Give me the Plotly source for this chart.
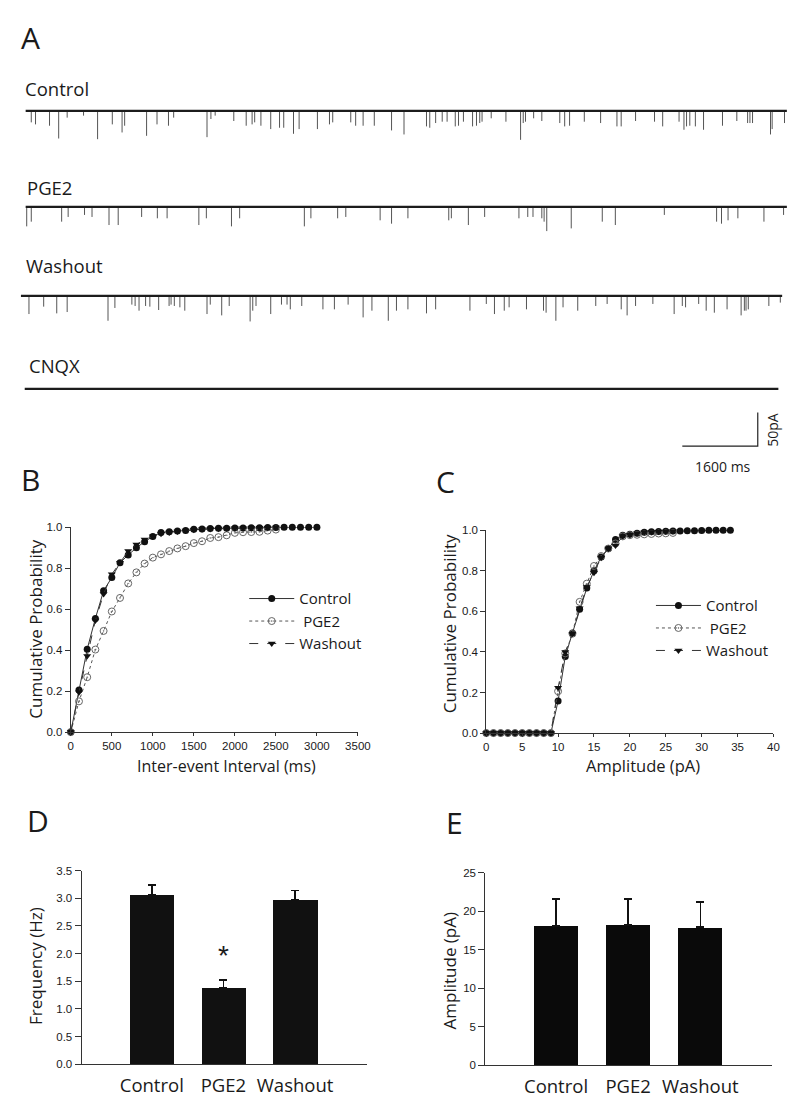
import plotly.graph_objects as go

W, H = 800, 1097
FONT = "Open Sans, Noto Sans, sans-serif"
TICKFONT = "Liberation Sans, Arial, sans-serif"
INK = "#1a1a1a"


def fx(p):
    return p / W


def fy(p):
    return 1 - p / H


# ---------------- Panel A : recordings (event times in ms, amplitudes in pA) ----------------
rec_names = ["Control", "PGE2", "Washout", "CNQX"]
rec_start_ms = [20, 20, -80, 0]
rec_end_ms = [16160, 16160, 16060, 15980]

ctrl_evt_ms = [139, 229, 526, 720, 900, 1247, 1545, 1857, 2064, 2119, 2584, 2805, 3048, 3158,
               3865, 3948, 4038, 4433, 4696, 4821, 4876, 5008, 5216, 5403, 5492, 5699, 5818,
               6206, 6462, 6531, 6913, 7017, 7175, 7412, 7778,
               8042, 8519, 8588, 8713, 8852, 8956, 9129, 9198, 9302, 9496, 9579, 9648, 9697,
               9891, 10203, 10514, 10570, 10618, 10791, 10964, 11345, 11449, 11553, 11865,
               12211, 12557, 12647, 12952, 13354, 13527, 13874, 13978, 14033, 14102, 14220,
               14393, 14795, 15099, 15328, 15377, 15432, 15813, 15848, 16110]
ctrl_evt_pA = [17, 20, 22, 41, 10, 7, 42, 20, 32, 22, 37, 20, 22, 10, 39, 12, 7, 15, 22, 20,
               17, 22, 27, 25, 25, 34, 27, 27, 20, 17, 17, 22, 22, 22, 29,
               35, 23, 25, 18, 16, 16, 23, 22, 16, 23, 22, 18, 16, 11, 16, 43, 18, 16, 11, 15,
               18, 23, 22, 16, 18, 23, 23, 15, 16, 23, 16, 28, 23, 22, 23, 28, 22, 15, 18, 18,
               18, 35, 27, 18]

pge2_evt_ms = [42, 139, 783, 921, 1268, 1427, 1787, 1982, 2479, 2812, 3019, 3692, 3851, 4384,
               4557, 5929, 6068, 6635, 6808, 7536, 7778,
               8125, 8991, 9046, 9407, 9752, 10479, 10666, 10777, 10964, 11013, 11069, 11588,
               12246, 12523, 13562, 14670, 14774, 14913, 15121, 15674, 16090]
pge2_evt_pA = [29, 22, 22, 15, 12, 15, 27, 27, 15, 17, 17, 27, 17, 29, 17, 29, 17, 17, 15, 20, 25,
               17, 20, 17, 27, 15, 17, 15, 15, 17, 22, 36, 32, 22, 27, 12, 22, 25, 20, 17, 22, 12]

wash_evt_ms = [90, 402, 679, 900, 1766, 1912, 2272, 2341, 2424, 2563, 2653, 2840, 3061, 3103,
               3172, 3290, 3394, 3865, 3934, 4177, 4336, 4779, 4835, 4904, 5216, 5444, 5562,
               5631, 5874, 6323, 6566, 6857, 7175, 7362, 7709, 7882,
               8125, 8519, 8713, 9440, 9787, 9960, 10168, 10271, 10639, 11000, 11055, 11262,
               11414, 11726, 12108, 12349, 12648, 12773, 12952, 13319, 13770, 13943, 14012,
               14290, 14449, 14622, 14892, 15190, 15259, 15294, 15342, 15778, 16021]
wash_evt_pA = [27, 16, 26, 24, 37, 18, 13, 15, 22, 15, 16, 21, 15, 13, 15, 17, 22, 27, 13, 29,
               15, 38, 22, 15, 27, 13, 13, 20, 15, 20, 20, 13, 32, 22, 37, 22,
               20, 26, 20, 22, 12, 27, 22, 17, 20, 22, 25, 37, 17, 22, 15, 12, 20, 29, 15, 12,
               27, 15, 17, 12, 22, 25, 20, 29, 22, 22, 20, 15, 10]

cnqx_evt_ms = []
cnqx_evt_pA = []

scale_time_ms = 1600
scale_amp_pA = 50

# ---------------- Panel B : cumulative inter-event interval ----------------
iei_ms = [0, 100, 200, 300, 400, 500, 600, 700, 800, 900, 1000, 1100, 1200, 1300, 1400, 1500,
          1600, 1700, 1800, 1900, 2000, 2100, 2200, 2300, 2400, 2500, 2600, 2700, 2800, 2900, 3000]
iei_control = [0, 0.205, 0.405, 0.555, 0.69, 0.755, 0.827, 0.865, 0.90, 0.93, 0.955, 0.975,
               0.978, 0.982, 0.985, 0.99, 0.992, 0.994, 0.995, 0.996, 0.997, 0.997, 0.998,
               0.998, 0.999, 0.999, 1.0, 1.0, 1.0, 1.0, 1.0]
iei_pge2 = [0, 0.15, 0.268, 0.403, 0.494, 0.589, 0.655, 0.726, 0.78, 0.823, 0.852, 0.868,
            0.884, 0.897, 0.908, 0.923, 0.932, 0.948, 0.952, 0.961, 0.973, 0.976, 0.977,
            0.978, 0.984, 0.989]
iei_washout = [0, 0.195, 0.371, 0.545, 0.674, 0.771, 0.827, 0.884, 0.916, 0.94, 0.956, 0.968,
               0.975, 0.98, 0.984, 0.988, 0.99, 0.992, 0.993, 0.994, 0.995, 0.996, 0.997,
               0.998, 0.998, 0.999]

# ---------------- Panel C : cumulative amplitude ----------------
amp_pA = [0, 1, 2, 3, 4, 5, 6, 7, 8, 9, 10, 11, 12, 13, 14, 15, 16, 17, 18, 19, 20, 21, 22,
          23, 24, 25, 26, 27, 28, 29, 30, 31, 32, 33, 34]
amp_control = [0, 0, 0, 0, 0, 0, 0, 0, 0, 0, 0.158, 0.377, 0.494, 0.61, 0.715, 0.80, 0.868,
               0.91, 0.955, 0.975, 0.98, 0.985, 0.99, 0.993, 0.994, 0.995, 0.996, 0.997,
               0.998, 0.998, 0.999, 1.0, 1.0, 1.0, 1.0]
amp_pge2 = [0, 0, 0, 0, 0, 0, 0, 0, 0, 0, 0.206, 0.393, 0.49, 0.647, 0.737, 0.824, 0.873,
            0.91, 0.935, 0.97, 0.976, 0.978, 0.98, 0.982, 0.984, 0.985, 0.987]
amp_washout = [0, 0, 0, 0, 0, 0, 0, 0, 0, 0, 0.223, 0.40, 0.49, 0.615, 0.72, 0.79, 0.865,
               0.91, 0.925, 0.97, 0.978, 0.985, 0.99, 0.992, 0.993, 0.994, 0.995]

# ---------------- Panels D / E : bar summaries ----------------
conditions = ["Control", "PGE2", "Washout"]
freq_mean = [3.06, 1.39, 2.98]
freq_sem = [0.18, 0.13, 0.16]
ampl_mean = [18.1, 18.2, 17.9]
ampl_sem = [3.5, 3.4, 3.3]

fig = go.Figure()

# ================= Panel A =================
A_PX_PER_MS = 77 / scale_time_ms
A_PX_PER_PA = 34 / scale_amp_pA
A_X0_PX = 14
A_XRANGE = [-100, 16170]
A_TOP, A_BOT = 60, 440
A_BASE_PX = [98, 195, 285, 379]
a_xdom = [fx(A_X0_PX + A_XRANGE[0] * A_PX_PER_MS), fx(A_X0_PX + A_XRANGE[1] * A_PX_PER_MS)]
a_yrange = [0, (A_BOT - A_TOP) / A_PX_PER_PA]
bases = [(A_BOT - b) / A_PX_PER_PA for b in A_BASE_PX]

events = [(ctrl_evt_ms, ctrl_evt_pA), (pge2_evt_ms, pge2_evt_pA),
          (wash_evt_ms, wash_evt_pA), (cnqx_evt_ms, cnqx_evt_pA)]
for i, (tms, amps) in enumerate(events):
    base = bases[i]
    xs, ys = [], []
    for t, a in zip(tms, amps):
        xs += [t, t, None]
        ys += [base, base - a, None]
    if xs:
        fig.add_trace(go.Scatter(x=xs, y=ys, mode="lines", xaxis="x", yaxis="y",
                                 line=dict(color="#555", width=1), showlegend=False,
                                 hoverinfo="skip"))
    fig.add_trace(go.Scatter(x=[rec_start_ms[i], rec_end_ms[i]], y=[base, base], mode="lines",
                             xaxis="x", yaxis="y", line=dict(color="#1c1c1c", width=2.2),
                             showlegend=False, hoverinfo="skip"))

# scale bar
sb_t0 = (685 - A_X0_PX) / A_PX_PER_MS
sb_y0 = (A_BOT - 437) / A_PX_PER_PA
fig.add_trace(go.Scatter(x=[sb_t0, sb_t0 + scale_time_ms, sb_t0 + scale_time_ms],
                         y=[sb_y0, sb_y0, sb_y0 + scale_amp_pA], mode="lines",
                         xaxis="x", yaxis="y", line=dict(color="#222", width=1.2),
                         showlegend=False, hoverinfo="skip"))

# ================= Panel B =================
fig.add_trace(go.Scatter(x=iei_ms, y=iei_control, name="Control", mode="lines+markers",
                         xaxis="x2", yaxis="y2", legend="legend", cliponaxis=False,
                         line=dict(color="#333", width=1, dash="solid"),
                         marker=dict(symbol="circle", size=7, color="#111")))
fig.add_trace(go.Scatter(x=iei_ms[:len(iei_pge2)], y=iei_pge2, name=" PGE2",
                         mode="lines+markers", xaxis="x2", yaxis="y2", legend="legend",
                         cliponaxis=False, line=dict(color="#555", width=1, dash="dot"),
                         marker=dict(symbol="circle-open-dot", size=7, color="#666",
                                     line=dict(width=1, color="#666"))))
fig.add_trace(go.Scatter(x=iei_ms[:len(iei_washout)], y=iei_washout, name="Washout",
                         mode="lines+markers", xaxis="x2", yaxis="y2", legend="legend",
                         cliponaxis=False, line=dict(color="#333", width=1, dash="dash"),
                         marker=dict(symbol="triangle-down", size=7, color="#111")))

# ================= Panel C =================
fig.add_trace(go.Scatter(x=amp_pA, y=amp_control, name="Control", mode="lines+markers",
                         xaxis="x3", yaxis="y3", legend="legend2", cliponaxis=False,
                         line=dict(color="#333", width=1, dash="solid"),
                         marker=dict(symbol="circle", size=7, color="#111")))
fig.add_trace(go.Scatter(x=amp_pA[:len(amp_pge2)], y=amp_pge2, name=" PGE2",
                         mode="lines+markers", xaxis="x3", yaxis="y3", legend="legend2",
                         cliponaxis=False, line=dict(color="#555", width=1, dash="dot"),
                         marker=dict(symbol="circle-open-dot", size=7, color="#666",
                                     line=dict(width=1, color="#666"))))
fig.add_trace(go.Scatter(x=amp_pA[:len(amp_washout)], y=amp_washout, name="Washout",
                         mode="lines+markers", xaxis="x3", yaxis="y3", legend="legend2",
                         cliponaxis=False, line=dict(color="#333", width=1, dash="dash"),
                         marker=dict(symbol="triangle-down", size=7, color="#111")))

# ================= Panels D and E =================
err_style = dict(type="data", symmetric=False, color="#111", thickness=1.6, width=4)
fig.add_trace(go.Bar(x=conditions, y=freq_mean, xaxis="x4", yaxis="y4", width=0.616,
                     marker=dict(color="#111", line=dict(width=0)), showlegend=False,
                     error_y=dict(array=freq_sem, arrayminus=[0] * len(freq_sem), **err_style)))
fig.add_trace(go.Bar(x=conditions, y=ampl_mean, xaxis="x5", yaxis="y5", width=0.612,
                     marker=dict(color="#0a0a0a", line=dict(width=0)), showlegend=False,
                     error_y=dict(array=ampl_sem, arrayminus=[0] * len(ampl_sem), **err_style)))


def dom_x(a, b):
    return [fx(a), fx(b)]


def dom_y(top, bot):
    return [fy(bot), fy(top)]


hidden = dict(visible=False, showgrid=False, zeroline=False, fixedrange=True)
tickf = dict(family=TICKFONT, size=11.5, color=INK)
ax_common = dict(showline=True, linecolor="#333", linewidth=1, showgrid=False, zeroline=False,
                 ticks="outside", tickcolor="#333", tickwidth=1, tickfont=tickf,
                 fixedrange=True)

layout = dict(
    width=W, height=H, margin=dict(l=0, r=0, t=0, b=0),
    paper_bgcolor="white", plot_bgcolor="white", bargap=0,
    font=dict(family=FONT, color=INK),
    xaxis=dict(domain=a_xdom, range=A_XRANGE, anchor="y", **hidden),
    yaxis=dict(domain=dom_y(A_TOP, A_BOT), range=a_yrange, anchor="x", **hidden),
    xaxis2=dict(domain=dom_x(61, 354), range=[0, 3500], dtick=500, tick0=0, ticklen=3,
                anchor="y2", **ax_common),
    yaxis2=dict(domain=dom_y(519, 726), range=[0, 1.0], dtick=0.2, tick0=0, tickformat=".1f",
                ticklen=5, anchor="x2", **ax_common),
    xaxis3=dict(domain=dom_x(485, 778), range=[0, 40], dtick=5, tick0=0, ticklen=3,
                anchor="y3", **ax_common),
    yaxis3=dict(domain=dom_y(522, 727), range=[0, 1.0], dtick=0.2, tick0=0, tickformat=".1f",
                ticklen=5, anchor="x3", **ax_common),
    xaxis4=dict(domain=dom_x(72, 363), type="category", range=[-0.98, 3.0], anchor="y4",
                showline=True, linecolor="#333", linewidth=1, showgrid=False, ticks="outside",
                ticklen=4, tickcolor="rgba(0,0,0,0)",
                tickfont=dict(family=FONT, size=18.5, color=INK), fixedrange=True),
    yaxis4=dict(domain=dom_y(866, 1062), range=[0, 3.5], dtick=0.5, tick0=0, tickformat=".1f",
                ticklen=6, anchor="x4", **ax_common),
    xaxis5=dict(domain=dom_x(484, 777), type="category", range=[-0.98, 3.0], anchor="y5",
                showline=True, linecolor="#333", linewidth=1, showgrid=False, ticks="outside",
                ticklen=4, tickcolor="rgba(0,0,0,0)",
                tickfont=dict(family=FONT, size=18.5, color=INK), fixedrange=True),
    yaxis5=dict(domain=dom_y(868, 1063), range=[0, 25], dtick=5, tick0=0,
                ticklen=6, anchor="x5", **ax_common),
    legend=dict(x=fx(238), y=fy(614), xanchor="left", yanchor="middle",
                font=dict(family=FONT, size=15, color=INK), bgcolor="rgba(0,0,0,0)",
                itemwidth=45, tracegroupgap=0),
    legend2=dict(x=fx(653), y=fy(621), xanchor="left", yanchor="middle",
                 font=dict(family=FONT, size=15, color=INK), bgcolor="rgba(0,0,0,0)",
                 itemwidth=45, tracegroupgap=0),
)

ann = []


def text(x, y, s, size, xanchor="center", yanchor="middle", angle=0):
    ann.append(dict(x=fx(x), y=fy(y), xref="paper", yref="paper", text=s, showarrow=False,
                    xanchor=xanchor, yanchor=yanchor, textangle=angle,
                    font=dict(family=FONT, size=size, color=INK)))


# panel letters
text(8, 24, "A", 30, xanchor="left")
text(8, 471, "B", 30, xanchor="left")
text(432, 473, "C", 30, xanchor="left")
text(14, 815, "D", 30, xanchor="left")
text(442, 817, "E", 30, xanchor="left")

# recording labels
label_x = [12, 14, 13, 16]
label_y = [75, 175, 254, 355]
for nm, lx, ly in zip(rec_names, label_x, label_y):
    text(lx, ly, nm, 18.5, xanchor="left")

# scale bar labels
text(777, 420, "50pA", 14, angle=-90)
text(727, 457, "1600 ms", 14)

# axis titles
text(220, 760, "Inter-event Interval (ms)", 16)
text(25, 622, "Cumulative Probability", 17, angle=-90)
text(645, 760, "Amplitude (pA)", 16.5)
text(447, 617, "Cumulative Probability", 17, angle=-90)
text(25, 963, "Frequency (Hz)", 17, angle=-90)
text(447, 967, "Amplitude (pA)", 17, angle=-90)

# significance star
ann.append(dict(x=conditions[1], y=freq_mean[1] + freq_sem[1] + 0.45, xref="x4", yref="y4",
                text="*", showarrow=False, font=dict(family=TICKFONT, size=28, color=INK)))

layout["annotations"] = ann
fig.update_layout(**layout)
fig.write_html("out.html")
